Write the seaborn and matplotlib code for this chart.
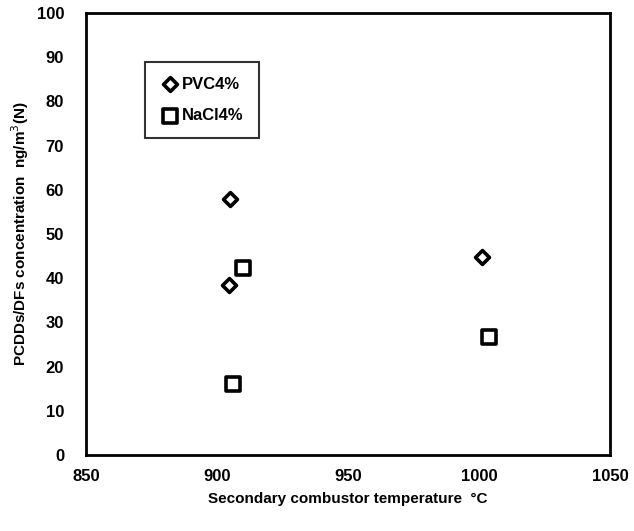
import matplotlib
matplotlib.use("Agg")
import matplotlib.pyplot as plt
import seaborn as sns
import pandas as pd

series = ["PVC4%", "PVC4%", "PVC4%", "NaCl4%", "NaCl4%", "NaCl4%"]
temperature = [905, 904.5, 1001, 910, 906, 1004]
concentration = [58, 38.5, 44.8, 42.3, 16, 26.7]
x_ticks = [850, 900, 950, 1000, 1050]
y_ticks = [0, 10, 20, 30, 40, 50, 60, 70, 80, 90, 100]

df = pd.DataFrame({"series": series, "temp": temperature, "conc": concentration})

sns.set_style("white")
plt.rcParams["font.family"] = ["Liberation Sans", "DejaVu Sans"]
plt.rcParams["text.color"] = "black"
plt.rcParams["axes.labelcolor"] = "black"
plt.rcParams["xtick.color"] = "black"
plt.rcParams["ytick.color"] = "black"

fig = plt.figure(figsize=(6.34, 5.31), dpi=100)
ax = fig.add_axes([0.136, 0.143, 0.826, 0.8325])

markers = {"PVC4%": "D", "NaCl4%": "s"}
sizes_map = {"PVC4%": 50, "NaCl4%": 110}
for name in ["PVC4%", "NaCl4%"]:
    sub = df[df["series"] == name]
    sns.scatterplot(data=sub, x="temp", y="conc", marker=markers[name],
                    s=sizes_map[name], facecolor="white", edgecolor="black",
                    linewidth=2.6, ax=ax, label=name, zorder=3)

ax.set_xlim(850, 1050)
ax.set_ylim(0, 100)
ax.set_xticks(x_ticks)
ax.set_yticks(y_ticks)
ax.set_xticklabels([str(v) for v in x_ticks], fontsize=12, fontweight="bold")
ax.set_yticklabels([str(v) for v in y_ticks], fontsize=12, fontweight="bold")
ax.tick_params(axis="x", direction="in", length=3, width=1, pad=10, colors="black")
ax.tick_params(axis="y", length=0, pad=16, colors="black")
for sp in ax.spines.values():
    sp.set_visible(True)
    sp.set_color("black")
    sp.set_linewidth(2)

ax.set_xlabel("Secondary combustor temperature  \u00b0C", fontsize=11,
              fontweight="semibold", labelpad=6, color="black")
ax.set_ylabel("PCDDs/DFs concentration  ng/m$^3$(N)", fontsize=11,
              fontweight="semibold", labelpad=4, color="black")

leg = ax.legend(loc="upper left", bbox_to_anchor=(0.113, 0.89), frameon=True,
                fancybox=False, edgecolor="black",
                prop={"weight": "bold", "size": 12}, borderpad=0.9,
                labelspacing=1.0, handletextpad=0.1, handlelength=1.2,
                borderaxespad=0)
leg.get_frame().set_linewidth(1.5)
for t in leg.get_texts():
    t.set_color("black")

fig.savefig("out.png", dpi=100, facecolor="white")
